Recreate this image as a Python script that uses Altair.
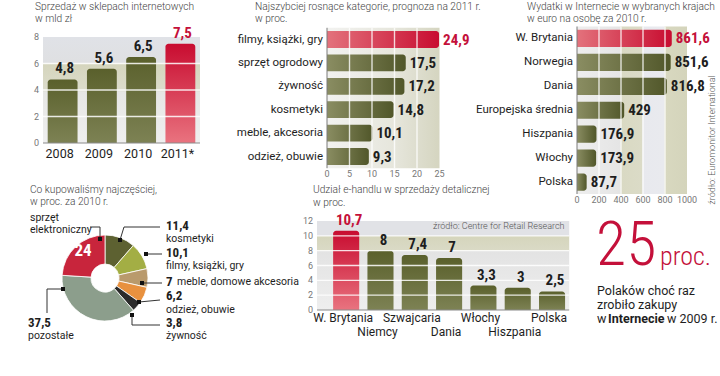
import altair as alt
import pandas as pd

# ---------------- data ----------------
years = ["2008", "2009", "2010", "2011*"]
sales = [4.8, 5.6, 6.5, 7.5]
sales_ticks = [0, 2, 4, 6, 8]

growth_cats = ["filmy, książki, gry", "sprzęt ogrodowy", "żywność", "kosmetyki",
               "meble, akcesoria", "odzież, obuwie"]
growth = [24.9, 17.5, 17.2, 14.8, 10.1, 9.3]
growth_ticks = [0, 5, 10, 15, 20, 25]

spend_countries = ["W. Brytania", "Norwegia", "Dania", "Europejska średnia",
                   "Hiszpania", "Włochy", "Polska"]
spend = [861.6, 851.6, 816.8, 429, 176.9, 173.9, 87.7]
spend_ticks = [0, 200, 400, 600, 800, 1000]

buy_cats = ["kosmetyki", "filmy, książki, gry", "meble, domowe akcesoria",
            "odzież, obuwie", "żywność", "pozostałe", "sprzęt elektroniczny"]
buy_share = [11.4, 10.1, 7, 6.2, 3.8, 37.5, 24]

share_countries = ["W. Brytania", "Niemcy", "Szwajcaria", "Dania", "Włochy",
                   "Hiszpania", "Polska"]
share = [10.7, 8, 7.4, 7, 3.3, 3, 2.5]
share_ticks = [0, 2, 4, 6, 8, 10, 12]

poles_pct = 25

# ---------------- styles ----------------
SANS = "Roboto"
COND = "'Liberation Sans Narrow', 'Roboto Condensed', 'Arial Narrow', Roboto"
DARK = "#1e1e1e"
TITLE = "#444444"
GREY = "#777777"
RED = "#c4103a"
TSIZE = 10.2
BUY_COLORS = ["#5d6131", "#a3ae44", "#b99a6c", "#e8913f", "#2b2b2b", "#8c9e8c", "#c8253c"]


def grad(stops, horizontal=False):
    return {"gradient": "linear", "x1": 0, "y1": 0,
            "x2": 1 if horizontal else 0, "y2": 0 if horizontal else 1,
            "stops": [{"offset": o, "color": c} for o, c in stops]}


OLIVE_V = grad([(0, "#5a602c"), (1, "#7d8254")])
RED_V = grad([(0, "#c80c30"), (1, "#e9737f")])
OLIVE_H = grad([(0, "#8a8d62"), (1, "#51572a")], True)
RED_H = grad([(0, "#e3727c"), (1, "#c80c30")], True)

LBL = "datum.v % 1 == 0 ? format(datum.v, 'd') : replace(format(datum.v, '.1f'), '.', ',')"


def sc(dom, rng):
    return alt.Scale(domain=dom, range=rng, nice=False, zero=False)


def X(f, s):
    return alt.X(f, scale=s, axis=None)


def Y(f, s):
    return alt.Y(f, scale=s, axis=None)


def note(text, x, y, size=11, weight="normal", color=DARK, font=SANS,
         align="left", angle=0, baseline="middle"):
    return alt.Chart(alt.Data(values=[{}])).mark_text(
        text=text, x=x, y=y, fontSize=size, fontWeight=weight, color=color,
        font=font, align=align, baseline=baseline, angle=angle)


def title(text, x, y):
    return note(text, x, y, size=TSIZE, color=TITLE, weight=300)


def box(xs, ys, x0, x1, y0, y1, fill):
    d = pd.DataFrame({"a": [x0], "b": [x1], "c": [y0], "d": [y1]})
    return alt.Chart(d).mark_rect(fill=fill).encode(
        x=X("a:Q", xs), x2="b", y=Y("c:Q", ys), y2="d")


layers = []

# ================= Panel 1: vertical bars =================
n1 = len(years)
d1 = pd.DataFrame({"cat": years, "v": sales, "i": list(range(n1))})
d1["hl"] = d1["i"] == n1 - 1
X1 = sc([-0.5, n1 - 0.5], [43, 200])
Y1 = sc([0, 8], [143, 37])
BG1 = grad([(0, "#e0e2e7"), (0.24, "#dfe0e2"), (0.26, "#d5d5bd"), (0.5, "#dcdccb"),
            (0.52, "#e6e6e4"), (1, "#efefef")])
layers.append(box(X1, Y1, -0.5, n1 - 0.5, 0, 8, BG1))
b1 = alt.Chart(d1).transform_calculate(x0="datum.i - 0.38", x1="datum.i + 0.38", z="0")
layers.append(b1.transform_filter("!datum.hl").mark_rect(
    fill=OLIVE_V, cornerRadiusTopLeft=3, cornerRadiusTopRight=3).encode(
    x=X("x0:Q", X1), x2="x1", y=Y("v:Q", Y1), y2="z"))
layers.append(b1.transform_filter("datum.hl").mark_rect(
    fill=RED_V, cornerRadiusTopLeft=3, cornerRadiusTopRight=3).encode(
    x=X("x0:Q", X1), x2="x1", y=Y("v:Q", Y1), y2="z"))
g1 = pd.DataFrame({"t": sales_ticks})
layers.append(alt.Chart(g1).transform_filter("datum.t > 0 && datum.t < 8").transform_calculate(
    a=str(-0.5), b=str(n1 - 0.5)).mark_rule(color="white", strokeWidth=1.4, opacity=0.85).encode(
    y=Y("t:Q", Y1), x=X("a:Q", X1), x2="b"))
layers.append(alt.Chart(g1).transform_filter("datum.t == 0").transform_calculate(
    a=str(-0.5), b=str(n1 - 0.5)).mark_rule(color="#8a8a8a", strokeWidth=1).encode(
    y=Y("t:Q", Y1), x=X("a:Q", X1), x2="b"))
layers.append(alt.Chart(g1).transform_calculate(a=str(-0.5)).mark_text(
    align="right", baseline="middle", dx=-4, fontSize=9, color=GREY, font=SANS).encode(
    x=X("a:Q", X1), y=Y("t:Q", Y1), text="t:Q"))
layers.append(b1.mark_text(baseline="top", dy=5, dx=-3, fontSize=12.5, color=DARK, font=SANS).encode(
    x=X("i:Q", X1), y=Y("z:Q", Y1), text="cat:N"))
layers.append(b1.transform_calculate(lab=LBL).mark_text(
    baseline="bottom", dy=-3, dx=2, fontSize=15, fontWeight="bold", font=COND).encode(
    x=X("i:Q", X1), y=Y("v:Q", Y1), text="lab:N",
    color=alt.condition("datum.hl", alt.value(RED), alt.value(DARK))))
layers.append(title("Sprzedaż w sklepach internetowych", 35, 7))
layers.append(title("w mld zł", 35, 19))

# ================= Horizontal bar helper =================


def hpanel(cats, vals, ticks, xs, ys, label_size=11.5):
    n = len(cats)
    d = pd.DataFrame({"cat": cats, "v": vals, "i": list(range(n))})
    d["hl"] = d["i"] == 0
    out = []
    b = alt.Chart(d).transform_calculate(y0="datum.i - 0.36", y1="datum.i + 0.36", z="0")
    out.append(b.transform_filter("!datum.hl").mark_rect(
        fill=OLIVE_H, cornerRadiusTopRight=3, cornerRadiusBottomRight=3).encode(
        y=Y("y0:Q", ys), y2="y1", x=X("z:Q", xs), x2="v"))
    out.append(b.transform_filter("datum.hl").mark_rect(
        fill=RED_H, cornerRadiusTopRight=3, cornerRadiusBottomRight=3).encode(
        y=Y("y0:Q", ys), y2="y1", x=X("z:Q", xs), x2="v"))
    g = pd.DataFrame({"t": ticks})
    out.append(alt.Chart(g).transform_filter(f"datum.t > 0 && datum.t < {ticks[-1]}").transform_calculate(
        a=str(-0.5), b=str(n - 0.5)).mark_rule(color="white", strokeWidth=1.4, opacity=0.8).encode(
        x=X("t:Q", xs), y=Y("a:Q", ys), y2="b"))
    out.append(alt.Chart(g).transform_filter("datum.t == 0").transform_calculate(
        a=str(-0.5), b=str(n - 0.5)).mark_rule(color="#7a7a7a", strokeWidth=1).encode(
        x=X("t:Q", xs), y=Y("a:Q", ys), y2="b"))
    out.append(alt.Chart(g).transform_calculate(a=str(n - 0.5)).mark_text(
        baseline="top", dy=2, fontSize=9, color=GREY, font=SANS).encode(
        x=X("t:Q", xs), y=Y("a:Q", ys), text="t:Q"))
    out.append(b.mark_text(align="right", baseline="middle", dx=-4, fontSize=label_size,
                           color=DARK, font=SANS).encode(
        x=X("z:Q", xs), y=Y("i:Q", ys), text="cat:N"))
    out.append(b.transform_calculate(lab=LBL).mark_text(
        align="left", baseline="middle", dx=4, fontSize=15, fontWeight="bold", font=COND).encode(
        x=X("v:Q", xs), y=Y("i:Q", ys), text="lab:N",
        color=alt.condition("datum.hl", alt.value(RED), alt.value(DARK))))
    return out


# ================= Panel 2 =================
n2 = len(growth_cats)
X2 = sc([0, 25], [327, 439.5])
Y2 = sc([-0.5, n2 - 0.5], [27.8, 168.2])
layers.append(box(X2, Y2, 0, 25, -0.5, n2 - 0.5,
                  grad([(0, "#f2f2f0"), (0.6, "#e6e6dc"), (1, "#d5d5c0")], True)))
layers += hpanel(growth_cats, growth, growth_ticks, X2, Y2)
layers.append(title("Najszybciej rosnące kategorie, prognoza na 2011 r.", 255, 7))
layers.append(title("w proc.", 255, 19))

# ================= Panel 3 =================
n3 = len(spend_countries)
X3 = sc([0, 1000], [577, 687])
Y3 = sc([-0.5, n3 - 0.5], [26.5, 194])
BG3 = grad([(0, "#eeeeee"), (0.39, "#e5e5e5"), (0.4, "#d9d9c3"), (0.59, "#dbdbc7"),
            (0.6, "#e8e9ee"), (0.79, "#e9eaee"), (0.8, "#d8d8c0"), (1, "#d4d4bb")], True)
layers.append(box(X3, Y3, 0, 1000, -0.5, n3 - 0.5, BG3))
layers += hpanel(spend_countries, spend, spend_ticks, X3, Y3)
layers.append(title("Wydatki w Internecie  w wybranych krajach", 527, 7))
layers.append(title("w euro na osobę za 2010 r.", 527, 19))
layers.append(note("źródło: Euromonitor International", 712, 140, size=9, color="#555555",
                   weight=300, align="center", angle=270))

# ================= Panel 4: donut =================
d4 = pd.DataFrame({"cat": buy_cats, "v": buy_share, "o": list(range(len(buy_cats)))})
layers.append(alt.Chart(d4).mark_arc(outerRadius=43, innerRadius=14, x=105, y=278,
                                     stroke="white", strokeWidth=0.8).encode(
    theta=alt.Theta("v:Q", stack=True),
    order=alt.Order("o:Q"),
    color=alt.Color("cat:N", scale=alt.Scale(domain=buy_cats, range=BUY_COLORS), legend=None)))
segs = pd.DataFrame([
    (90, 227, 100, 227), (100, 227, 100, 239),
    (120, 240, 124, 227), (124, 227, 160, 227),
    (146, 254, 162, 254),
    (142, 283, 162, 283),
    (139, 302, 160, 300),
    (132, 315, 132, 325), (132, 325, 160, 325),
    (63, 289, 47, 289), (47, 289, 47, 313),
], columns=["x", "y", "x2", "y2"])
layers.append(alt.Chart(segs).mark_rule(color="#333333", strokeWidth=1).encode(
    x=alt.X("x:Q", scale=None), y=alt.Y("y:Q", scale=None), x2="x2", y2="y2"))
marks = pd.DataFrame([(100, 239), (120, 240), (146, 254), (142, 283), (139, 302), (132, 315), (63, 289)],
                     columns=["x", "y"])
layers.append(alt.Chart(marks).mark_square(size=16, color="#111111", opacity=1).encode(
    x=alt.X("x:Q", scale=None), y=alt.Y("y:Q", scale=None)))
layers.append(title("Co kupowaliśmy najczęściej,", 30, 190))
layers.append(title("w proc. za 2010 r.", 30, 202))
layers.append(note("sprzęt", 30, 218, size=10.5))
layers.append(note("elektroniczny", 30, 230, size=10.5))
layers.append(note("24", 83, 251, size=17, weight="bold", color="white", font=COND, align="center"))
for val, lab, yv, yl in [("11,4", "kosmetyki", 226, 239), ("10,1", "filmy, książki, gry", 253, 266),
                         ("6,2", "odzież, obuwie", 296, 310), ("3,8", "żywność", 323, 336)]:
    layers.append(note(val, 166, yv, size=13, weight="bold", font=COND))
    layers.append(note(lab, 166, yl, size=10.5))
layers.append(note("7", 166, 282, size=13, weight="bold", font=COND))
layers.append(note("meble, domowe akcesoria", 177, 282, size=10.5))
layers.append(note("37,5", 28, 323, size=13, weight="bold", font=COND))
layers.append(note("pozostałe", 28, 336, size=10.5))

# ================= Panel 5: vertical bars =================
n5 = len(share_countries)
X5 = sc([-0.85, n5 - 0.5], [317, 569.2])
Y5 = sc([0, 12], [310, 221])
BG5 = grad([(0, "#e1e2e6"), (0.165, "#e1e2e6"), (0.17, "#d5d5bc"), (0.33, "#dadac6"),
            (0.34, "#e3e3e3"), (1, "#eeeeee")])
layers.append(box(X5, Y5, -0.85, n5 - 0.5, 0, 12, BG5))
d5 = pd.DataFrame({"cat": share_countries, "v": share, "i": list(range(n5))})
d5["hl"] = d5["i"] == 0
b5 = alt.Chart(d5).transform_calculate(x0="datum.i - 0.38", x1="datum.i + 0.38", z="0")
layers.append(b5.transform_filter("!datum.hl").mark_rect(
    fill=OLIVE_V, cornerRadiusTopLeft=3, cornerRadiusTopRight=3).encode(
    x=X("x0:Q", X5), x2="x1", y=Y("v:Q", Y5), y2="z"))
layers.append(b5.transform_filter("datum.hl").mark_rect(
    fill=RED_V, cornerRadiusTopLeft=3, cornerRadiusTopRight=3).encode(
    x=X("x0:Q", X5), x2="x1", y=Y("v:Q", Y5), y2="z"))
g5 = pd.DataFrame({"t": share_ticks})
layers.append(alt.Chart(g5).transform_filter("datum.t > 0 && datum.t < 12").transform_calculate(
    a=str(-0.85), b=str(n5 - 0.5)).mark_rule(color="white", strokeWidth=1.4, opacity=0.85).encode(
    y=Y("t:Q", Y5), x=X("a:Q", X5), x2="b"))
layers.append(alt.Chart(g5).transform_filter("datum.t == 0").transform_calculate(
    a=str(-0.85), b=str(n5 - 0.5)).mark_rule(color="#8a8a8a", strokeWidth=1).encode(
    y=Y("t:Q", Y5), x=X("a:Q", X5), x2="b"))
layers.append(alt.Chart(g5).transform_calculate(a=str(-0.85)).mark_text(
    align="right", baseline="middle", dx=-4, fontSize=9, color=GREY, font=SANS).encode(
    x=X("a:Q", X5), y=Y("t:Q", Y5), text="t:Q"))
layers.append(b5.transform_filter("datum.i % 2 == 0").mark_text(
    baseline="middle", dy=8, dx=-3, fontSize=12, color=DARK, font=SANS).encode(
    x=X("i:Q", X5), y=Y("z:Q", Y5), text="cat:N"))
layers.append(b5.transform_filter("datum.i % 2 == 1").mark_text(
    baseline="middle", dy=22, dx=-3, fontSize=12, color=DARK, font=SANS).encode(
    x=X("i:Q", X5), y=Y("z:Q", Y5), text="cat:N"))
layers.append(b5.transform_calculate(lab=LBL).mark_text(
    baseline="bottom", dy=-3, dx=3, fontSize=15, fontWeight="bold", font=COND).encode(
    x=X("i:Q", X5), y=Y("v:Q", Y5), text="lab:N",
    color=alt.condition("datum.hl", alt.value(RED), alt.value(DARK))))
layers.append(title("Udział e-handlu w sprzedaży detalicznej", 313, 190))
layers.append(title("w proc.", 313, 203))
layers.append(note("źródło: Centre for Retail Research", 433, 226, size=9, color="#555555", weight=300))

# ================= Panel 6: big number =================
layers.append(note(str(poles_pct), 596, 265, size=62, weight=300, color=RED, font=COND,
                   baseline="alphabetic"))
layers.append(note("proc.", 660, 265, size=26, weight=300, color=RED, font=COND,
                   baseline="alphabetic"))
layers.append(note("Polaków choć raz", 597, 291, size=12.5))
layers.append(note("zrobiło zakupy", 597, 305, size=12.5))
layers.append(note("w", 597, 319, size=12.5))
layers.append(note("Internecie", 608, 319, size=12.5, weight="bold"))
layers.append(note("w 2009 r.", 667, 319, size=12.5))

chart = alt.layer(*layers).resolve_scale(
    x="independent", y="independent", theta="independent", color="independent"
).properties(
    width=720, height=376, padding=0, autosize="none", background="white"
).configure_view(stroke=None)

chart.save("out.html", embed_options={"renderer": "svg", "actions": False})
